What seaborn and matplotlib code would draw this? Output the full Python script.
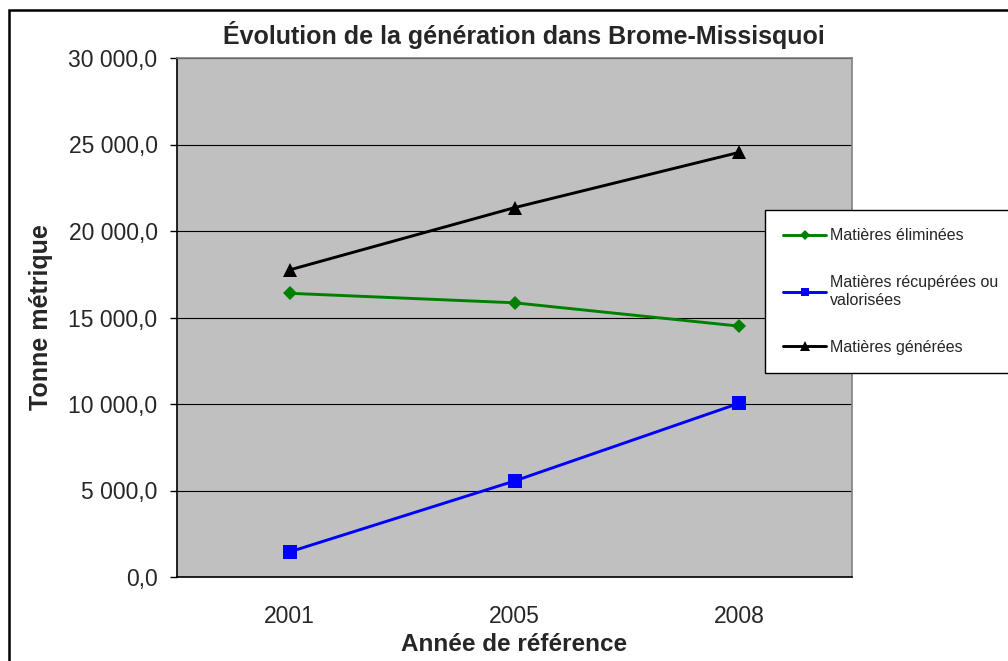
import pandas as pd
import matplotlib
matplotlib.use("Agg")
import matplotlib.pyplot as plt
from matplotlib.patches import Rectangle
from matplotlib.ticker import FuncFormatter, FixedLocator
import seaborn as sns

# Données
annees = ['2001', '2005', '2008']
series = ['Matières éliminées', 'Matières récupérées ou\nvalorisées', 'Matières générées']
eliminees = [16400, 15850, 14500]
recuperees = [1450, 5550, 10050]
generees = [17750, 21350, 24550]

df = pd.DataFrame({
    'Année': annees * 3,
    'Tonnes': eliminees + recuperees + generees,
    'Série': [series[0]] * 3 + [series[1]] * 3 + [series[2]] * 3,
})

sns.set_theme(style='white')
plt.rcParams['font.family'] = ['Liberation Sans', 'DejaVu Sans']

fig = plt.figure(figsize=(10.08, 6.61), dpi=100)
ax = fig.add_axes([177 / 1008, 1 - 577 / 661, 675 / 1008, 519 / 661])
ax.set_facecolor('#c0c0c0')

couleurs = {series[0]: '#008000', series[1]: '#0000ff', series[2]: '#000000'}
marqueurs = {series[0]: 'D', series[1]: 's', series[2]: '^'}
tailles = {series[0]: 7.5, series[1]: 9.5, series[2]: 10}
tailles_legende = {series[0]: 5, series[1]: 6, series[2]: 7}

sns.lineplot(data=df, x='Année', y='Tonnes', hue='Série', style='Série',
             palette=couleurs, markers=marqueurs, dashes=False,
             linewidth=2.1, markeredgewidth=0, ax=ax, legend=True, sort=False)
for line, s in zip(ax.lines, series):
    line.set_markersize(tailles[s])

ax.set_xlim(-0.5, 2.5)
ax.set_ylim(0, 30000)
ax.yaxis.set_major_locator(FixedLocator([0, 5000, 10000, 15000, 20000, 25000, 30000]))
ax.yaxis.set_major_formatter(FuncFormatter(
    lambda v, p: f"{v:,.1f}".replace(",", " ").replace(".", ",")))
ax.grid(axis='y', color='black', linewidth=0.8)
ax.set_axisbelow(True)

ax.xaxis.set_minor_locator(FixedLocator([-0.5, 0.5, 1.5, 2.5]))
ax.tick_params(axis='x', which='major', length=0, pad=20, labelsize=16.5)
ax.tick_params(axis='x', which='minor', length=5, width=1, color='black', direction='out')
ax.tick_params(axis='y', which='major', length=5, width=1, color='black',
               direction='out', left=True, pad=9, labelsize=16.5)

for s in ['top', 'right']:
    ax.spines[s].set_color('#808080')
    ax.spines[s].set_linewidth(1.2)
for s in ['left', 'bottom']:
    ax.spines[s].set_color('black')
    ax.spines[s].set_linewidth(1.2)

ax.set_xlabel('Année de référence', fontsize=17.5, fontweight='bold', labelpad=4)
ax.set_ylabel('Tonne métrique', fontsize=18, fontweight='bold', labelpad=11)
fig.text(524 / 1008, 1 - 35 / 661, 'Évolution de la génération dans Brome-Missisquoi',
         ha='center', va='center', fontsize=18, fontweight='bold')

handles, labels = ax.get_legend_handles_labels()
ax.get_legend().remove()
leg = fig.legend(handles, labels, loc='upper left',
                 bbox_to_anchor=(765 / 1008, 1 - 210 / 661),
                 fontsize=11.5, frameon=True, fancybox=False, framealpha=1,
                 edgecolor='black', handlelength=2.7,
                 handletextpad=0.2, labelspacing=2.0, borderpad=1.15,
                 borderaxespad=0)
leg.get_frame().set_linewidth(1)
for h, s in zip(leg.legend_handles, series):
    h.set_markersize(tailles_legende[s])
    h.set_linewidth(2.1)

fig.patches.append(Rectangle((9 / 1008, -0.2), 1.5, 1.2 - 9.5 / 661,
                             transform=fig.transFigure, fill=False,
                             edgecolor='black', linewidth=1.8, zorder=10))

fig.savefig('out.png', dpi=100)
